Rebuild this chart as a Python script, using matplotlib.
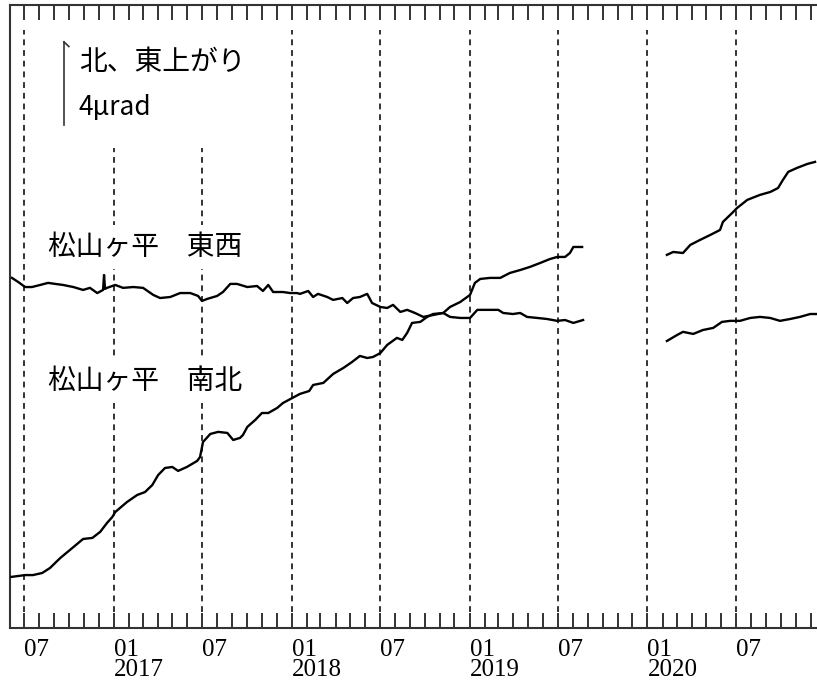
import numpy as np
import pandas as pd
import matplotlib
matplotlib.use("Agg")
import matplotlib.pyplot as plt
import matplotlib.dates as mdates
import matplotlib.transforms as mtrans
from matplotlib.patches import Rectangle
from matplotlib.ticker import FuncFormatter

# 松山ヶ平 南北 (北上がり, μrad)
ns_dates = ["2016-06-04", "2016-07-03", "2016-07-19", "2016-08-07", "2016-08-23",
            "2016-09-13", "2016-10-03", "2016-10-30", "2016-11-18", "2016-12-04",
            "2016-12-18", "2016-12-29", "2017-01-04", "2017-01-28", "2017-02-18",
            "2017-03-06", "2017-03-21", "2017-04-02", "2017-04-16", "2017-05-01",
            "2017-05-13", "2017-05-31", "2017-06-21", "2017-06-27", "2017-07-03",
            "2017-07-18", "2017-08-03", "2017-08-22", "2017-09-03", "2017-09-17",
            "2017-09-23", "2017-10-02", "2017-10-18", "2017-11-01", "2017-11-14",
            "2017-12-02", "2017-12-14", "2018-01-02", "2018-01-18", "2018-02-06",
            "2018-02-14", "2018-03-07", "2018-03-27", "2018-04-17", "2018-05-05",
            "2018-05-21", "2018-06-05", "2018-06-17", "2018-07-02", "2018-07-16",
            "2018-08-05", "2018-08-16", "2018-08-26", "2018-09-05", "2018-09-22",
            "2018-10-06", "2018-10-18", "2018-11-08", "2018-11-22", "2018-12-13",
            "2019-01-02", "2019-01-12", "2019-01-23", "2019-02-12", "2019-03-05",
            "2019-03-25", "2019-04-15", "2019-05-05", "2019-05-26", "2019-06-15",
            "2019-06-30", "2019-07-16", "2019-07-26", "2019-08-02", "2019-08-20",
            "2020-02-10", "2020-02-23", "2020-03-14", "2020-03-29", "2020-04-18",
            "2020-05-09", "2020-05-29", "2020-06-04", "2020-06-23", "2020-07-03",
            "2020-07-24", "2020-08-19", "2020-09-09", "2020-09-25", "2020-10-05",
            "2020-10-16", "2020-11-03", "2020-11-24", "2020-12-10"]
ns_values = [2.46, 2.55, 2.55, 2.65, 2.89, 3.37, 3.76, 4.29, 4.34, 4.63,
             5.06, 5.35, 5.59, 6.07, 6.41, 6.55, 6.89, 7.37, 7.71, 7.76,
             7.57, 7.76, 8.05, 8.24, 8.96, 9.35, 9.45, 9.40, 9.06, 9.16,
             9.30, 9.69, 10.02, 10.36, 10.36, 10.60, 10.84, 11.08, 11.28, 11.42,
             11.71, 11.81, 12.24, 12.53, 12.82, 13.11, 13.01, 13.06, 13.25, 13.64,
             13.98, 13.88, 14.22, 14.70, 14.75, 14.99, 15.13, 15.18, 15.47, 15.71,
             16.05, 16.63, 16.82, 16.87, 16.87, 17.11, 17.25, 17.40, 17.59, 17.78,
             17.88, 17.88, 18.07, 18.36, 18.36,
             17.98, 18.12, 18.07, 18.46, 18.70, 18.94, 19.18, 19.57, 20.00, 20.24,
             20.63, 20.87, 21.01, 21.20, 21.59, 21.98, 22.17, 22.36, 22.46]

# 松山ヶ平 東西 (東上がり, μrad)
ew_dates = ["2016-06-06", "2016-06-19", "2016-07-03", "2016-07-17", "2016-08-03",
            "2016-08-19", "2016-09-03", "2016-09-19", "2016-10-10", "2016-10-30",
            "2016-11-13", "2016-11-28", "2016-12-10", "2016-12-12", "2016-12-14",
            "2016-12-18", "2017-01-04", "2017-01-20", "2017-02-10", "2017-03-02",
            "2017-03-23", "2017-04-06", "2017-04-27", "2017-05-17", "2017-06-07",
            "2017-06-23", "2017-07-01", "2017-07-12", "2017-08-01", "2017-08-13",
            "2017-08-28", "2017-09-11", "2017-10-02", "2017-10-22", "2017-11-03",
            "2017-11-14", "2017-11-24", "2017-12-14", "2017-12-29", "2018-01-12",
            "2018-01-18", "2018-02-04", "2018-02-14", "2018-02-24", "2018-03-15",
            "2018-03-27", "2018-04-15", "2018-04-25", "2018-05-07", "2018-05-21",
            "2018-06-05", "2018-06-15", "2018-07-02", "2018-07-16", "2018-07-28",
            "2018-08-12", "2018-08-26", "2018-09-11", "2018-09-28", "2018-10-18",
            "2018-11-08", "2018-11-22", "2018-12-13", "2019-01-02", "2019-01-17",
            "2019-01-29", "2019-02-12", "2019-03-01", "2019-03-11", "2019-03-31",
            "2019-04-15", "2019-04-29", "2019-05-20", "2019-06-09", "2019-06-30",
            "2019-07-16", "2019-08-02", "2019-08-22",
            "2020-02-10", "2020-03-02", "2020-03-14", "2020-04-04", "2020-04-24",
            "2020-05-15", "2020-06-02", "2020-06-19", "2020-07-09", "2020-07-30",
            "2020-08-19", "2020-09-09", "2020-09-29", "2020-10-20", "2020-11-09",
            "2020-11-30", "2020-12-14"]
ew_values = [16.87, 16.67, 16.43, 16.43, 16.53, 16.63, 16.58, 16.53, 16.43, 16.29,
             16.39, 16.14, 16.29, 17.01, 16.34, 16.39, 16.53, 16.39, 16.43, 16.39,
             16.05, 15.90, 15.95, 16.14, 16.14, 16.00, 15.76, 15.86, 16.00, 16.19,
             16.58, 16.58, 16.43, 16.48, 16.24, 16.53, 16.19, 16.19, 16.14, 16.14,
             16.10, 16.24, 15.95, 16.10, 15.95, 15.81, 15.90, 15.66, 15.90, 15.95,
             16.10, 15.66, 15.47, 15.42, 15.57, 15.23, 15.33, 15.18, 14.99, 15.08,
             15.18, 14.99, 14.94, 14.94, 15.33, 15.33, 15.33, 15.33, 15.18, 15.13,
             15.18, 14.99, 14.94, 14.89, 14.80, 14.84, 14.70, 14.84,
             13.83, 14.12, 14.27, 14.17, 14.36, 14.46, 14.75, 14.80, 14.80, 14.94,
             14.99, 14.94, 14.80, 14.89, 14.99, 15.13, 15.13]

x_start, x_end = "2016-06-02", "2020-12-14"
y_range = (0, 30.02)
scale_bottom, scale_len = 24.24, 4.0

jp = ["Noto Sans CJK JP", "DejaVu Sans"]
ink = "#333333"


def plot_with_gaps(ax, dates, values):
    # 欠測期間（60日超）は線をつながない
    d = pd.to_datetime(dates).values
    v = np.array(values, dtype=float)
    breaks = np.where(np.diff(d) > np.timedelta64(60, "D"))[0] + 1
    for sd, sv in zip(np.split(d, breaks), np.split(v, breaks)):
        ax.plot(sd, sv, color="black", lw=1.7, zorder=3)


def date_label(x, pos):
    d = mdates.num2date(x)
    if d.month == 1:
        return "01\n%d" % d.year
    return "%02d" % d.month


fig = plt.figure(figsize=(8.17, 6.87), dpi=100)
ax = fig.add_axes([10 / 817, 59 / 687, 807 / 817, 623 / 687])

plot_with_gaps(ax, ew_dates, ew_values)
plot_with_gaps(ax, ns_dates, ns_values)

ax.set_xlim(pd.Timestamp(x_start), pd.Timestamp(x_end))
ax.set_ylim(*y_range)

# 1月・7月の破線
for t in pd.date_range("2016-07-01", x_end, freq="6MS"):
    ax.axvline(t, ymin=0.026, ymax=0.96, color=ink, lw=1.4,
               ls=(0, (3, 2.5)), zorder=1)

ax.xaxis.set_major_locator(mdates.MonthLocator(bymonth=[1, 7]))
ax.xaxis.set_minor_locator(mdates.MonthLocator())
ax.xaxis.set_major_formatter(FuncFormatter(date_label))
ax.tick_params(axis="x", which="both", direction="in", top=True, length=11,
               width=1.4, color=ink, pad=8)
ax.tick_params(axis="x", which="major", labelsize=18)
for lab in ax.get_xticklabels():
    lab.set_family("Liberation Serif")
    lab.set_horizontalalignment("left")
    lab.set_linespacing(0.85)
ax.set_yticks([])

for side in ["left", "bottom", "top"]:
    ax.spines[side].set_color(ink)
    ax.spines[side].set_linewidth(1.5)
ax.spines["right"].set_visible(False)

# 凡例部分（破線を隠す白地）
ax.add_patch(Rectangle((0.074, 0.77), 0.235, 0.197, transform=ax.transAxes,
                       facecolor="white", edgecolor="none", zorder=2))

# スケール 4μrad
blend = mtrans.blended_transform_factory(ax.transAxes, ax.transData)
sx = 54 / 807
ax.plot([sx, sx], [scale_bottom, scale_bottom + scale_len], transform=blend,
        color=ink, lw=1.2, zorder=4)
ax.plot([sx, sx + 0.006], [scale_bottom + scale_len, scale_bottom + scale_len - 0.22],
        transform=blend, color=ink, lw=1.2, zorder=4)

ax.text(0.0855, 0.9085, "北、東上がり", transform=ax.transAxes, family=jp,
        fontsize=20, va="center", ha="left", zorder=5)
ax.text(0.0855, 0.8347, "4μrad", transform=ax.transAxes, family=jp,
        fontsize=19, va="center", ha="left", zorder=5)

box = dict(facecolor="white", edgecolor="none", pad=5)
ax.text(0.0471, 0.6116, "松山ヶ平　東西", transform=ax.transAxes, family=jp,
        fontsize=20, va="center", ha="left", bbox=box, zorder=5)
ax.text(0.0471, 0.3965, "松山ヶ平　南北", transform=ax.transAxes, family=jp,
        fontsize=20, va="center", ha="left", bbox=box, zorder=5)

fig.savefig("out.png", dpi=100, facecolor="white")
